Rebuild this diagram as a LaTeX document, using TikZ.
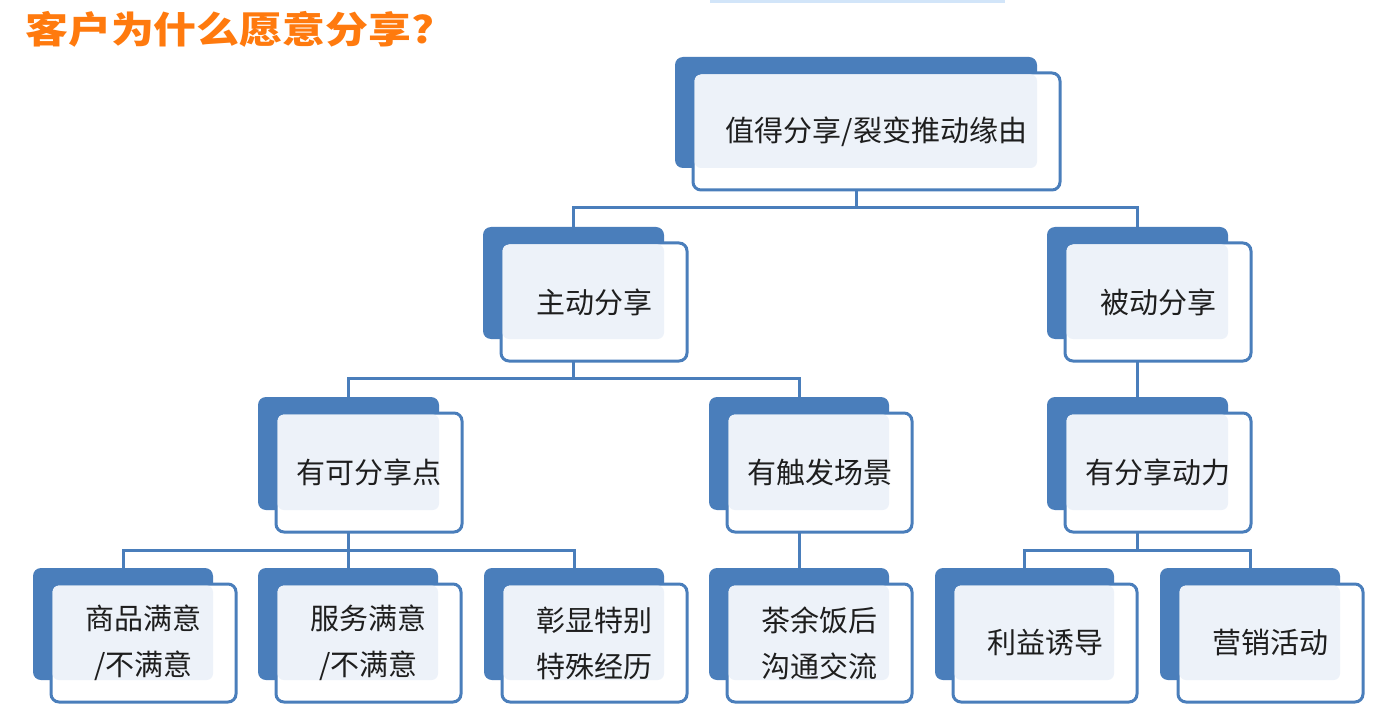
\documentclass[tikz,border=0pt]{standalone}
\usepackage{fontspec}
\newfontfamily\cjk{Noto Sans CJK SC}
\usetikzlibrary{backgrounds}
\definecolor{dkblue}{HTML}{4A7EBB}
\definecolor{lightfill}{HTML}{EDF2F9}
\definecolor{txtc}{HTML}{1E1E1E}
\definecolor{orangec}{HTML}{FF7A0E}
\definecolor{faint}{HTML}{D2E5F9}
\tikzset{
 backbox/.style={fill=dkblue, rounded corners=8pt, inner sep=0pt, draw=none},
 frontbox/.style={fill=white, draw=dkblue, line width=3pt, rounded corners=8pt, inner sep=0pt},
 overlap/.style={fill=lightfill, rounded corners=6.5pt},
 boxtext/.style={font=\cjk\fontsize{29}{46}\selectfont, text=txtc, align=center, inner sep=0pt},
 conn/.style={draw=dkblue, line width=3pt},
 titletext/.style={font=\cjk\bfseries\fontsize{37}{40}\selectfont, text=orangec, xscale=1.16, inner sep=0pt, anchor=west}
}
\newcommand\tbx[6]{%
  \node[backbox, minimum width={(#4-#2)*1pt}, minimum height={(#5-#3)*1pt}] (#1) at ({(#2+#4)/2},{(#3+#5)/2}) {};
  \node[frontbox, minimum width={(#4-#2+5)*1pt}, minimum height={(#5-#3+6)*1pt}] (#1f) at ({(#2+#4+41)/2},{(#3+#5+38)/2}) {};
  \fill[overlap] ({#2+19.5},{#3+17.5}) rectangle (#4,#5);
  \node[boxtext] (#1t) at (#1f) {#6};
}
\begin{document}
\begin{tikzpicture}[x=1pt,y=-1pt]
\useasboundingbox (0,0) rectangle (1391,711);
% faint strip at top
\fill[faint] (710,0) rectangle (1005,3);
% title
\node[titletext] (title) at (25,29) {客户为什么愿意分享?};
% boxes
\tbx{top}{675}{57}{1037}{168}{值得分享/裂变推动缘由}
\tbx{zd}{483}{227}{664}{339}{主动分享}
\tbx{bd}{1047}{227}{1228}{339}{被动分享}
\tbx{kfx}{258}{397}{439}{510}{有可分享点}
\tbx{cf}{709}{397}{889}{510}{有触发场景}
\tbx{dl}{1047}{397}{1228}{510}{有分享动力}
\tbx{sp}{33}{568}{213}{680}{商品满意\\/不满意}
\tbx{fw}{258}{568}{438}{680}{服务满意\\/不满意}
\tbx{zx}{484}{568}{664}{680}{彰显特别\\特殊经历}
\tbx{cy}{709}{568}{889}{680}{茶余饭后\\沟通交流}
\tbx{ly}{935}{568}{1114}{680}{利益诱导}
\tbx{yx}{1160}{568}{1340}{680}{营销活动}
% connectors
\begin{scope}[on background layer]
 \fill[white] (0,0) rectangle (1391,711);
 \coordinate (b1) at (0,208);
 \coordinate (b2) at (0,378);
 \coordinate (b3) at (0,550);
 \draw[conn] (top.south) -- (top.south |- b1);
 \draw[conn] (zd.north) -- (zd.north |- b1) -- (bd.north |- b1) -- (bd.north);
 \draw[conn] (zd.south) -- (zd.south |- b2);
 \draw[conn] (kfx.north) -- (kfx.north |- b2) -- (cf.north |- b2) -- (cf.north);
 \draw[conn] (bd.south) -- (dl.north);
 \draw[conn] (kfx.south) -- (kfx.south |- b3);
 \draw[conn] (sp.north) -- (sp.north |- b3) -- (zx.north |- b3) -- (zx.north);
 \draw[conn] (fw.north) -- (fw.north |- b3);
 \draw[conn] (cf.south) -- (cy.north);
 \draw[conn] (dl.south) -- (dl.south |- b3);
 \draw[conn] (ly.north) -- (ly.north |- b3) -- (yx.north |- b3) -- (yx.north);
\end{scope}
\end{tikzpicture}
\end{document}
